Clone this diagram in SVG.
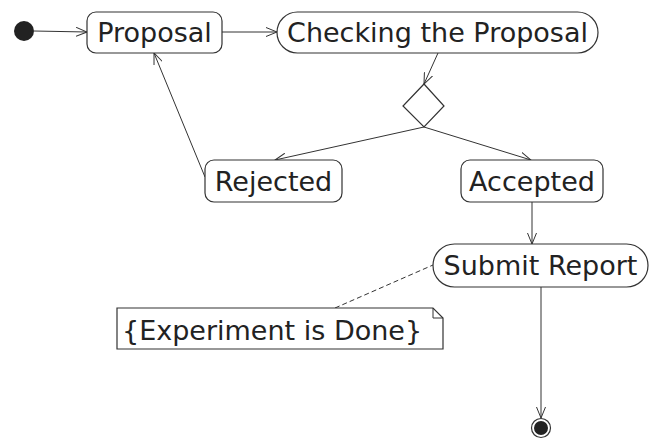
<svg xmlns="http://www.w3.org/2000/svg" width="655" height="440" viewBox="0 0 655 440">
<defs>
<style>
.box{fill:#fff;stroke:#333;stroke-width:1.2}
.t{font-family:"DejaVu Sans","Liberation Sans",sans-serif;font-size:27px;fill:#222;text-anchor:middle}
.e{fill:none;stroke:#333;stroke-width:1}
</style>
<marker id="arr" viewBox="0 0 12 10" refX="11" refY="5" markerWidth="12" markerHeight="10" markerUnits="userSpaceOnUse" orient="auto">
<path d="M0,0.5 L11,5 L0,9.5" fill="none" stroke="#333" stroke-width="1"/>
</marker>
</defs>
<rect width="655" height="440" fill="#fff"/>
<g id="connectors">
<line class="e" x1="34" y1="31" x2="87" y2="32" marker-end="url(#arr)"/>
<line class="e" x1="222" y1="32" x2="277" y2="32" marker-end="url(#arr)"/>
<line class="e" x1="438" y1="53" x2="424" y2="84" marker-end="url(#arr)"/>
<line class="e" x1="424" y1="127" x2="275" y2="160" marker-end="url(#arr)"/>
<line class="e" x1="424" y1="127" x2="531" y2="160" marker-end="url(#arr)"/>
<line class="e" x1="205" y1="177" x2="154" y2="53" marker-end="url(#arr)"/>
<line class="e" x1="532" y1="202" x2="532" y2="244" marker-end="url(#arr)"/>
<line class="e" x1="541" y1="287" x2="541" y2="418" marker-end="url(#arr)"/>
<line class="e" x1="335" y1="308" x2="433" y2="265" stroke-dasharray="5,3"/>
</g>
<g id="start"><circle cx="24" cy="31" r="10" fill="#222"/></g>
<g id="proposal"><rect class="box" x="87" y="12" width="135" height="41" rx="9"/><text class="t" x="154.5" y="41.5">Proposal</text></g>
<g id="checking"><rect class="box" x="277" y="12" width="321" height="41" rx="20.5"/><text class="t" x="437.5" y="41.5">Checking the Proposal</text></g>
<g id="decision"><polygon class="box" points="424,84 444,106 424,127 403,106"/></g>
<g id="rejected"><rect class="box" x="205" y="160" width="137" height="42" rx="9"/><text class="t" x="273.5" y="190.5">Rejected</text></g>
<g id="accepted"><rect class="box" x="461" y="160" width="142" height="42" rx="9"/><text class="t" x="532" y="190.5">Accepted</text></g>
<g id="submit"><rect class="box" x="433" y="244" width="215" height="43" rx="21.5"/><text class="t" x="540.5" y="274.5">Submit Report</text></g>
<g id="note"><path class="box" d="M117,308 H433 L443,318 V349 H117 Z"/><path class="e" d="M433,308 V318 H443"/><text class="t" x="122" y="340" style="text-anchor:start">{Experiment is Done}</text></g>
<g id="end"><circle cx="541" cy="428" r="9.5" fill="#fff" stroke="#333" stroke-width="1.2"/><circle cx="541" cy="428" r="7" fill="#222"/></g>
</svg>
